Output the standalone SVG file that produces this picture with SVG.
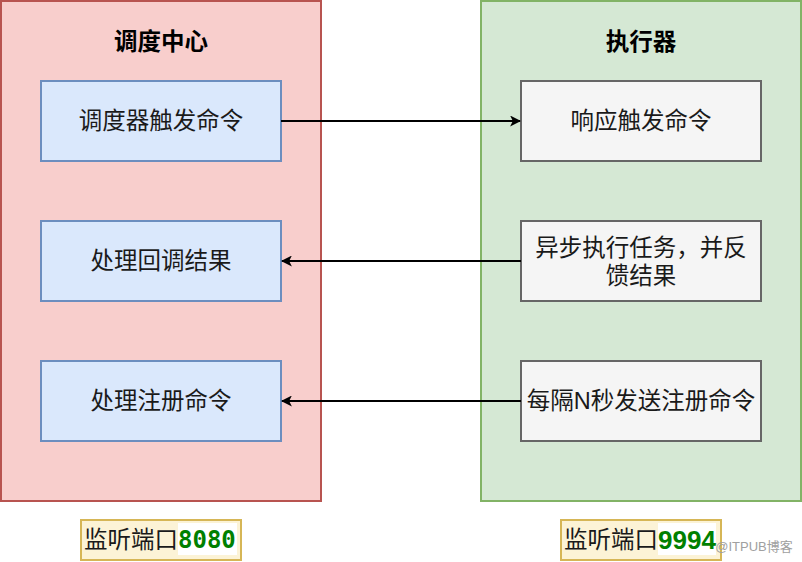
<svg xmlns="http://www.w3.org/2000/svg" width="802" height="562" viewBox="0 0 802 562">
<defs>
<marker id="arr" viewBox="0 0 10 10" refX="9" refY="5" markerWidth="11" markerHeight="11" markerUnits="userSpaceOnUse" orient="auto">
<path d="M0,0 L10,5 L0,10 L2.5,5 Z" fill="#000"/>
</marker>
<style>
text{font-family:"Liberation Sans","Noto Sans CJK SC",sans-serif;font-size:23.5px;fill:#1a1a1a;text-anchor:middle;dominant-baseline:central}
.t{font-weight:bold;fill:#000}
.blue{fill:#dae8fc;stroke:#6c8ebf;stroke-width:2}
.gray{fill:#f5f5f5;stroke:#666666;stroke-width:2}
.lbl{fill:#fcf3d6;stroke:#d6b656;stroke-width:2}
.num{font-weight:bold;fill:#008000;text-anchor:start}
</style>
</defs>
<rect width="802" height="562" fill="#fff"/>
<g id="center">
<rect x="1" y="1" width="320" height="500" fill="#f8cecc" stroke="#b85450" stroke-width="2"/>
<text class="t" x="161" y="42">调度中心</text>
</g>
<g id="executor">
<rect x="481" y="1" width="320" height="500" fill="#d5e8d4" stroke="#82b366" stroke-width="2"/>
<text class="t" x="641" y="42">执行器</text>
</g>
<g id="n1"><rect class="blue" x="41" y="81" width="240" height="80"/><text x="161" y="121">调度器触发命令</text></g>
<g id="n2"><rect class="blue" x="41" y="221" width="240" height="80"/><text x="161" y="261">处理回调结果</text></g>
<g id="n3"><rect class="blue" x="41" y="361" width="240" height="80"/><text x="161" y="401">处理注册命令</text></g>
<g id="n4"><rect class="gray" x="521" y="81" width="240" height="80"/><text x="641" y="121">响应触发命令</text></g>
<g id="n5"><rect class="gray" x="521" y="221" width="240" height="80"/><text x="641" y="248">异步执行任务，并反</text><text x="641" y="276">馈结果</text></g>
<g id="n6"><rect class="gray" x="521" y="361" width="240" height="80"/><text x="641" y="401">每隔N秒发送注册命令</text></g>
<g id="connectors" stroke="#000" stroke-width="2" fill="none">
<path d="M281,121 L520,121" marker-end="url(#arr)"/>
<path d="M521,261 L282,261" marker-end="url(#arr)"/>
<path d="M521,401 L282,401" marker-end="url(#arr)"/>
</g>
<g id="port1">
<rect class="lbl" x="81" y="520" width="160" height="40"/>
<rect x="178" y="523" width="59" height="32" fill="#fff"/>
<text x="131" y="540" fill="#000">监听端口</text>
<text class="num" x="178" y="540" style="font-family:'DejaVu Sans Mono',monospace;font-size:24px">8080</text>
</g>
<g id="port2">
<rect class="lbl" x="561" y="520" width="160" height="40"/>
<rect x="658" y="523" width="58" height="32" fill="#fff"/>
<text x="611" y="540" fill="#000">监听端口</text>
<text class="num" x="658" y="540" style="font-size:26px">9994</text>
</g>
<text x="754" y="546" style="font-size:13px;fill:#a0a0a0">@ITPUB博客</text>
</svg>
